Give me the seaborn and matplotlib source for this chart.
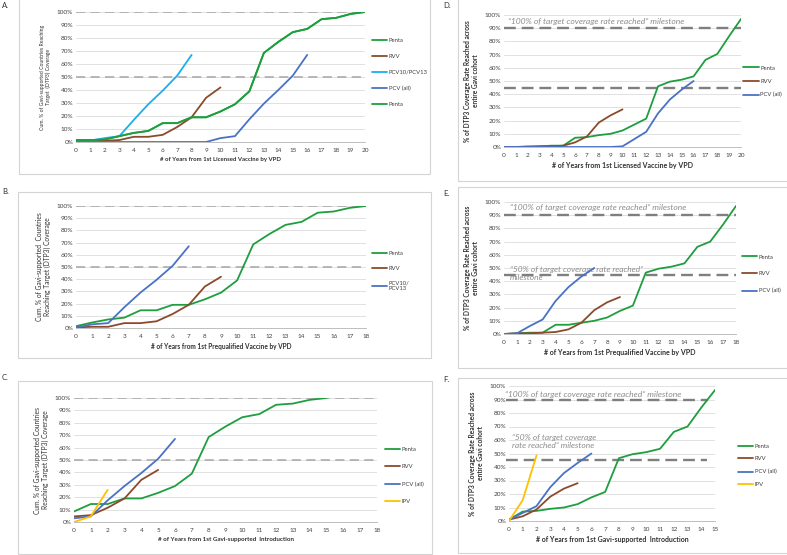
import numpy as np
import matplotlib.pyplot as plt
from matplotlib.patches import Rectangle
import seaborn as sns

sns.set_style("white")
plt.rcParams['font.family'] = ['Lato', 'DejaVu Sans']

GREEN = '#1E9E3E'
BROWN = '#8B4B2B'
SKY = '#19AFEF'
BLUE = '#4A72C4'
YELLOW = '#FFC000'

# A. cumulative % of countries, years from 1st licensed vaccine
a_penta = [1.5, 1.5, 2, 4.5, 7, 8.5, 14.5, 14.5, 19, 19, 23.5, 29, 39, 68.5, 77, 84.5, 87, 94.5, 95.5, 98.5, 100]
a_rvv = [1, 1, 1, 1.5, 4, 4, 5.5, 11.5, 19, 34, 42]
a_pcv1013 = [1, 1, 3, 4.5, 17, 29, 39.5, 51, 67]
a_pcv_all = [0, 0, 0, 0, 0, 0, 0, 0, 0, 0, 3, 4.5, 17.5, 29.5, 40, 51, 67]

# B. years from 1st prequalified vaccine
b_penta = [1.5, 4.5, 7, 8.5, 14.5, 14.5, 19, 19, 23.5, 29, 39, 68.5, 77, 84.5, 87, 94.5, 95.5, 98.5, 100]
b_rvv = [0.5, 1, 1, 4, 4, 5.5, 11.5, 19, 34, 42]
b_pcv = [0.5, 3, 4, 17, 29, 39.5, 51, 67]

# C. years from 1st Gavi-supported introduction
c_penta = [8.5, 14.5, 14.5, 19, 19, 23.5, 29, 39, 68.5, 77, 84.5, 87, 94.5, 95.5, 98.5, 100]
c_rvv = [4.5, 5.5, 11.5, 19, 34, 42]
c_pcv = [3, 4.5, 17.5, 29, 39.5, 51, 67]
c_ipv = [0, 4.5, 26]

# D. % of DTP3 coverage rate reached, years from 1st licensed vaccine
d_penta = [0, 0, 0.5, 0.5, 1, 1, 7, 7.5, 9, 10, 12.5, 17, 21.5, 46, 49.5, 51, 53.5, 66, 70.5, 84, 97]
d_rvv = [0, 0, 0, 0.5, 0.5, 1, 3.5, 8, 18.5, 24, 28.5]
d_pcv = [0, 0, 0, 0, 0, 0, 0, 0, 0, 0, 0.5, 6, 11.5, 25.5, 36, 43.5, 50]

# E. years from 1st prequalified vaccine
e_penta = [0, 0.5, 1, 1, 7, 7, 8.5, 10, 12.5, 17.5, 21.5, 46.5, 49.5, 51, 53.5, 66, 70, 83, 97]
e_rvv = [0, 0.5, 0.5, 1, 1.5, 3.5, 8.5, 18, 24, 28]
e_pcv = [0, 0.5, 6, 11, 25, 35.5, 43.5, 50]

# F. years from 1st Gavi-supported introduction
f_penta = [1, 7, 7.5, 9, 10, 12.5, 17.5, 21.5, 46.5, 49.5, 51, 53.5, 66, 70, 84, 97]
f_rvv = [1, 3.5, 8.5, 18, 24, 28]
f_pcv = [1, 6, 11, 25, 35.5, 43, 50]
f_ipv = [0, 15.5, 48.5]

XL_LIC = '# of Years from 1st Licensed Vaccine by VPD'
XL_PQ = '# of Years from 1st Prequalified Vaccine by VPD'
XL_GAVI = '# of Years from 1st Gavi-supported  Introduction'
YL_DTP = '% of DTP3 Coverage Rate Reached across\nentire Gavi cohort'
YL_A = 'Cum. % of Gavi-supported Countries Reaching\nTarget  (DTP3) Coverage'
YL_B = 'Cum. % of Gavi-supported  Countries\nReaching Target (DTP3) Coverage'
YL_C = 'Cum. % of Gavi-supported Countries\nReaching Target (DTP3) Coverage'
M100 = '\u201c100% of target coverage rate reached\u201d milestone'

W, H = 787, 555
fig = plt.figure(figsize=(W / 100, H / 100), dpi=100)


def px_axes(x0, y0, x1, y1):
    return fig.add_axes([x0 / W, 1 - y1 / H, (x1 - x0) / W, (y1 - y0) / H])


def px_box(x0, y0, x1, y1):
    fig.patches.append(Rectangle((x0 / W, 1 - y1 / H), (x1 - x0) / W, (y1 - y0) / H,
                                 transform=fig.transFigure, fill=False,
                                 edgecolor='#d4d4d4', lw=0.8))


def panel(ax, xmax, series, xlabel, ylabel, xl_size, yl_size, bold_y=False):
    for name, vals, color in series:
        sns.lineplot(x=np.arange(len(vals)), y=vals, ax=ax, color=color,
                     linewidth=1.3, label=name, zorder=3)
    ax.set_xlim(0, xmax)
    ax.set_ylim(0, 100)
    ax.set_xticks(range(0, xmax + 1))
    ax.set_yticks(range(0, 101, 10))
    ax.set_yticklabels([f'{v}%' for v in range(0, 101, 10)])
    ax.grid(axis='y', color='#dcdcdc', lw=0.6)
    ax.set_axisbelow(True)
    for s in ['top', 'right', 'left']:
        ax.spines[s].set_visible(False)
    ax.spines['bottom'].set_color('#bfbfbf')
    ax.spines['bottom'].set_linewidth(0.7)
    ax.tick_params(axis='x', length=2, width=0.5, color='#bfbfbf', labelsize=4.6,
                   labelcolor='#404040', pad=2)
    ax.tick_params(axis='y', length=0, labelsize=4.6, labelcolor='#404040', pad=2)
    ax.set_xlabel(xlabel, fontsize=xl_size, fontweight='bold', color='#303030', labelpad=3)
    ax.set_ylabel(ylabel, fontsize=yl_size, color='#303030', labelpad=4,
                  fontweight='bold' if bold_y else 'normal', linespacing=1.2)


def legend(ax, x, y, spacing, hl=2.6):
    ax.legend(loc='center left', bbox_to_anchor=(x / W, 1 - y / H),
              bbox_transform=fig.transFigure, frameon=False, fontsize=4.2,
              handlelength=hl, handletextpad=0.25, borderpad=0, borderaxespad=0,
              labelspacing=spacing, labelcolor='#404040')


def light_refs(ax, levels):
    for lv in levels:
        ax.axhline(lv, color='#a6a6a6', lw=1.1, dashes=(6, 3.5), zorder=2)


def dark_ref(ax, lv, x0=None, x1=None):
    if x0 is None:
        ax.axhline(lv, color='#7f7f7f', lw=1.7, dashes=(5, 2.5), zorder=2)
    else:
        ax.plot([x0, x1], [lv, lv], color='#7f7f7f', lw=1.7, dashes=(5, 2.5),
                zorder=2, clip_on=False)


def note(ax, x, y, s, size=6.1):
    ax.text(x, y, s, fontsize=size, style='italic', color='#8c8c8c',
            va='center', ha='left', zorder=1, linespacing=1.25)


# frames around each panel
px_box(19, -2, 430, 174)
px_box(18, 192, 431, 358)
px_box(18, 381, 432, 554)
px_box(458, -2, 790, 181)
px_box(458, 187, 790, 368)
px_box(458, 378, 790, 553)

# A
ax = px_axes(76, 12, 365, 142)
panel(ax, 20, [('Penta', a_penta, GREEN), ('RVV', a_rvv, BROWN),
               ('PCV10/PCV13', a_pcv1013, SKY), ('PCV (all)', a_pcv_all, BLUE),
               ('Penta', a_penta, GREEN)], XL_LIC, YL_A, 4.3, 3.7)
light_refs(ax, [100, 50])
legend(ax, 372, 72.5, 1.89)

# B
ax = px_axes(76, 206, 366, 328)
panel(ax, 18, [('Penta', b_penta, GREEN), ('RVV', b_rvv, BROWN),
               ('PCV10/\nPCV13', b_pcv, BLUE)], XL_PQ, YL_B, 4.7, 4.8)
light_refs(ax, [100, 50])
legend(ax, 372, 271, 1.67)

# C
ax = px_axes(74, 398, 377, 522)
panel(ax, 18, [('Penta', c_penta, GREEN), ('RVV', c_rvv, BROWN),
               ('PCV (all)', c_pcv, BLUE), ('IPV', c_ipv, YELLOW)], XL_GAVI, YL_C, 4.5, 4.8)
light_refs(ax, [100, 50])
legend(ax, 385, 475.5, 2.1)

# D
ax = px_axes(504, 15, 741, 147)
panel(ax, 20, [('Penta', d_penta, GREEN), ('RVV', d_rvv, BROWN),
               ('PCV (all)', d_pcv, BLUE)], XL_LIC, YL_DTP, 5.0, 4.7, bold_y=True)
dark_ref(ax, 90)
dark_ref(ax, 45)
note(ax, 0.35, 95, M100)
legend(ax, 743, 81.5, 1.42, hl=2.75)

# E
ax = px_axes(504, 202, 736, 334)
panel(ax, 18, [('Penta', e_penta, GREEN), ('RVV', e_rvv, BROWN),
               ('PCV (all)', e_pcv, BLUE)], XL_PQ, YL_DTP, 5.0, 4.8, bold_y=True)
dark_ref(ax, 90)
dark_ref(ax, 45)
note(ax, 0.45, 95.5, M100)
note(ax, 0.45, 46, '\u201c50% of target coverage rate reached\u201d\nmilestone', size=6.0)
legend(ax, 742, 274, 2.02)

# F
ax = px_axes(509, 386, 715, 521)
panel(ax, 15, [('Penta', f_penta, GREEN), ('RVV', f_rvv, BROWN),
               ('PCV (all)', f_pcv, BLUE), ('IPV', f_ipv, YELLOW)], XL_GAVI, YL_DTP,
      5.0, 4.8, bold_y=True)
dark_ref(ax, 90, -0.2, 14.5)
dark_ref(ax, 45, -0.2, 14.4)
note(ax, -0.3, 93.5, M100)
note(ax, 0.2, 59, '\u201c50% of target coverage\nrate reached\u201d milestone', size=6.0)
legend(ax, 738, 465.5, 1.33)

for letter, x, y in [('A.', 2, 6), ('B.', 2, 192), ('C.', 2, 377),
                     ('D.', 443, 6), ('E.', 443, 193), ('F.', 443, 380)]:
    fig.text(x / W, 1 - y / H, letter, fontsize=5.5, color='#303030', va='center', ha='left')

fig.savefig('out.png', dpi=100)
